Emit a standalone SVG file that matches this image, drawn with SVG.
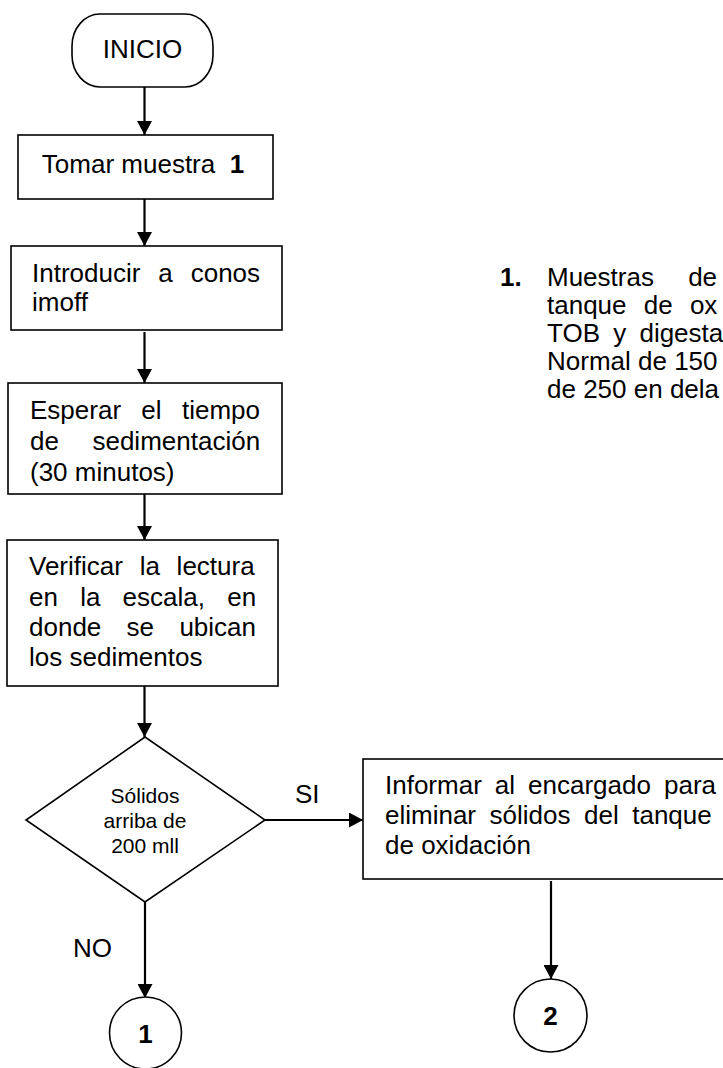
<svg xmlns="http://www.w3.org/2000/svg" width="723" height="1068" viewBox="0 0 723 1068">
<defs>
<marker id="ah" markerUnits="userSpaceOnUse" markerWidth="15" markerHeight="15" refX="14" refY="7.5" orient="auto">
<path d="M0,0 L14,7.5 L0,15 z" fill="#000"/>
</marker>
</defs>
<style>
.s{fill:#fff;stroke:#000;stroke-width:1.6}
.t{font-family:"Liberation Sans",Arial,sans-serif;font-size:26px;fill:#000}
.d{font-family:"Liberation Sans",Arial,sans-serif;font-size:21px;fill:#000;text-anchor:middle}
.b{font-weight:bold}
.c{stroke:#000;stroke-width:2.2;fill:none;marker-end:url(#ah)}
</style>
<rect width="723" height="1068" fill="#fff"/>
<g id="connectors">
<line class="c" x1="144.5" y1="87" x2="144.5" y2="135"/>
<line class="c" x1="144.5" y1="199" x2="144.5" y2="246"/>
<line class="c" x1="144.5" y1="332" x2="144.5" y2="383"/>
<line class="c" x1="144.5" y1="494" x2="144.5" y2="540"/>
<line class="c" x1="144.5" y1="686" x2="144.5" y2="737"/>
<line class="c" x1="265" y1="820" x2="363" y2="820"/>
<line class="c" x1="145" y1="902" x2="145" y2="998"/>
<line class="c" x1="551" y1="881" x2="551" y2="979"/>
<text class="t" x="295" y="803">SI</text>
<text class="t" x="73" y="957">NO</text>
</g>
<g id="inicio">
<rect class="s" x="72" y="14" width="141" height="73" rx="28" ry="32"/>
<text class="t" x="142.5" y="58" text-anchor="middle">INICIO</text>
</g>
<g id="tomar">
<rect class="s" x="18" y="135" width="255" height="64"/>
<text class="t" x="143" y="173" text-anchor="middle" xml:space="preserve">Tomar muestra  <tspan class="b">1</tspan></text>
</g>
<g id="introducir">
<rect class="s" x="11" y="246" width="271" height="84"/>
<text class="t" x="32" y="282" word-spacing="10.7">Introducir a conos</text>
<text class="t" x="32" y="311">imoff</text>
</g>
<g id="esperar">
<rect class="s" x="8" y="383" width="274" height="111"/>
<text class="t" x="30" y="419" word-spacing="13.1">Esperar el tiempo</text>
<text class="t" x="30" y="450" word-spacing="26.3">de sedimentación</text>
<text class="t" x="30" y="481">(30 minutos)</text>
</g>
<g id="verificar">
<rect class="s" x="7" y="540" width="271" height="146"/>
<text class="t" x="29" y="575" word-spacing="9.5">Verificar la lectura</text>
<text class="t" x="29" y="606" word-spacing="15">en la escala, en</text>
<text class="t" x="29" y="636" word-spacing="18.1">donde se ubican</text>
<text class="t" x="29" y="666">los sedimentos</text>
</g>
<g id="decision">
<polygon class="s" points="145,737 265,820 145,902 26,820"/>
<text class="d" x="145" y="803">Sólidos</text>
<text class="d" x="145" y="828">arriba de</text>
<text class="d" x="145" y="853">200 mll</text>
</g>
<g id="informar">
<rect class="s" x="363" y="759" width="380" height="120"/>
<text class="t" x="385" y="794" word-spacing="5.8">Informar al encargado para</text>
<text class="t" x="385" y="824" word-spacing="6.3">eliminar sólidos del tanque</text>
<text class="t" x="385" y="854">de oxidación</text>
</g>
<g id="conector1">
<circle class="s" cx="145.5" cy="1033" r="36"/>
<text class="t b" x="145.5" y="1043" text-anchor="middle">1</text>
</g>
<g id="conector2">
<circle class="s" cx="550.5" cy="1015.5" r="36.5"/>
<text class="t b" x="550.5" y="1025" text-anchor="middle">2</text>
</g>
<g id="nota">
<text class="t b" x="500" y="286">1.</text>
<text class="t" x="547" y="286" word-spacing="27">Muestras de</text>
<text class="t" x="547" y="314" word-spacing="10">tanque de ox</text>
<text class="t" x="547" y="342" word-spacing="6">TOB y digesta</text>
<text class="t" x="547" y="370">Normal de 150</text>
<text class="t" x="547" y="398">de 250 en dela</text>
</g>
</svg>
